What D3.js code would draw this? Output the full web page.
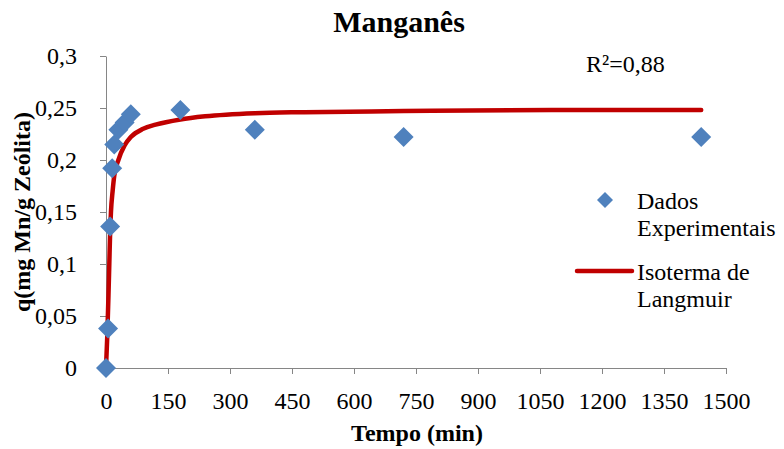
<!DOCTYPE html>
<html>
<head>
<meta charset="utf-8">
<script src="https://cdn.jsdelivr.net/npm/d3@7"></script>
<style>
  body { margin: 0; background: #fff; }
</style>
</head>
<body>
<div id="chart"></div>
<script>
// experimental points (tempo em min, q em mg Mn/g zeólita)
const tempoDados = [0, 5, 10, 15, 20, 30, 45, 60, 180, 360, 720, 1440];
const qDados = [0, 0.038, 0.136, 0.192, 0.215, 0.229, 0.236, 0.244, 0.248, 0.229, 0.222, 0.222];

// Langmuir curve
const tempoCurva = [0, 3, 6, 8, 10, 12, 16, 20, 30, 45, 60, 90, 120, 180, 240, 360, 480, 720, 1080, 1440];
const qCurva = [0, 0.03, 0.07, 0.10, 0.13, 0.15, 0.17, 0.185, 0.20, 0.214, 0.222, 0.230, 0.234, 0.239, 0.242, 0.245, 0.246, 0.247, 0.248, 0.248];

const xTicks = [0, 150, 300, 450, 600, 750, 900, 1050, 1200, 1350, 1500];
const xTickLabels = ["0", "150", "300", "450", "600", "750", "900", "1050", "1200", "1350", "1500"];
const yTicks = [0, 0.05, 0.1, 0.15, 0.2, 0.25, 0.3];
const yTickLabels = ["0", "0,05", "0,1", "0,15", "0,2", "0,25", "0,3"];

const fam = "Liberation Serif";

const width = 784, height = 449;
const margin = { top: 56, right: 58, bottom: 81, left: 106 };

const svg = d3.select("#chart").append("svg")
    .attr("width", width)
    .attr("height", height)
    .attr("font-family", fam);

const x = d3.scaleLinear().domain([0, 1500]).range([margin.left, width - margin.right]);
const y = d3.scaleLinear().domain([0, 0.3]).range([height - margin.bottom, margin.top]);

const axisColor = "#868686";

// x axis
const xAxis = svg.append("g")
    .attr("transform", "translate(0," + y(0) + ")")
    .call(d3.axisBottom(x).tickValues(xTicks).tickSize(6).tickSizeOuter(0).tickPadding(4)
        .tickFormat((d, i) => xTickLabels[i]));
xAxis.attr("font-family", fam).attr("font-size", 24);
xAxis.select(".domain").attr("stroke", axisColor);
xAxis.selectAll(".tick line").attr("stroke", axisColor);
xAxis.selectAll(".tick text")
    .attr("fill", "#000").attr("dy", null).attr("y", 41);

// y axis
const yAxis = svg.append("g")
    .attr("transform", "translate(" + x(0) + ",0)")
    .call(d3.axisLeft(y).tickValues(yTicks).tickSize(6).tickSizeOuter(0).tickPadding(23)
        .tickFormat((d, i) => yTickLabels[i]));
yAxis.attr("font-family", fam).attr("font-size", 24);
yAxis.select(".domain").attr("stroke", axisColor);
yAxis.selectAll(".tick line").attr("stroke", axisColor);
yAxis.selectAll(".tick text").attr("fill", "#000");

// curve
const curveData = tempoCurva.map((t, i) => ({ t: t, q: qCurva[i] }));
const line = d3.line()
    .x(d => x(d.t))
    .y(d => y(d.q))
    .curve(d3.curveMonotoneX);
svg.append("path")
    .datum(curveData)
    .attr("d", line)
    .attr("fill", "none")
    .attr("stroke", "#C00000")
    .attr("stroke-width", 4.5)
    .attr("stroke-linecap", "round");

// diamonds
function diamond(r) {
    return "M0," + (-r) + "L" + r + ",0L0," + r + "L" + (-r) + ",0Z";
}
const pointsData = tempoDados.map((t, i) => ({ t: t, q: qDados[i] }));
svg.selectAll(".pt")
    .data(pointsData)
    .enter()
    .append("path")
    .attr("class", "pt")
    .attr("d", diamond(10))
    .attr("transform", d => "translate(" + x(d.t) + "," + y(d.q) + ")")
    .attr("fill", "#4F81BD");

function txt(g, xp, yp, s, size, bold) {
    return g.append("text")
        .attr("x", xp).attr("y", yp)
        .attr("font-family", fam)
        .attr("font-size", size)
        .attr("font-weight", bold ? "bold" : "normal")
        .text(s);
}

// title
txt(svg, 399, 32, "Manganês", 30, true).attr("text-anchor", "middle");

// axis titles
txt(svg, 417, 441, "Tempo (min)", 24, true).attr("text-anchor", "middle");
txt(svg, 0, 0, "q(mg Mn/g Zeólita)", 24, true)
    .attr("text-anchor", "middle")
    .attr("transform", "translate(30,212) rotate(-90)");

// R²
txt(svg, 586, 72, "R²=0,88", 24, false);

// legend
const leg = svg.append("g");
leg.append("path")
    .attr("d", diamond(8))
    .attr("transform", "translate(605,200)")
    .attr("fill", "#4F81BD");
txt(leg, 637, 209, "Dados", 24, false);
txt(leg, 637, 236, "Experimentais", 24, false);
leg.append("line")
    .attr("x1", 577).attr("x2", 632).attr("y1", 271).attr("y2", 271)
    .attr("stroke", "#C00000").attr("stroke-width", 4.5).attr("stroke-linecap", "round");
txt(leg, 637, 280, "Isoterma de", 24, false);
txt(leg, 637, 307, "Langmuir", 24, false);
</script>
</body>
</html>
